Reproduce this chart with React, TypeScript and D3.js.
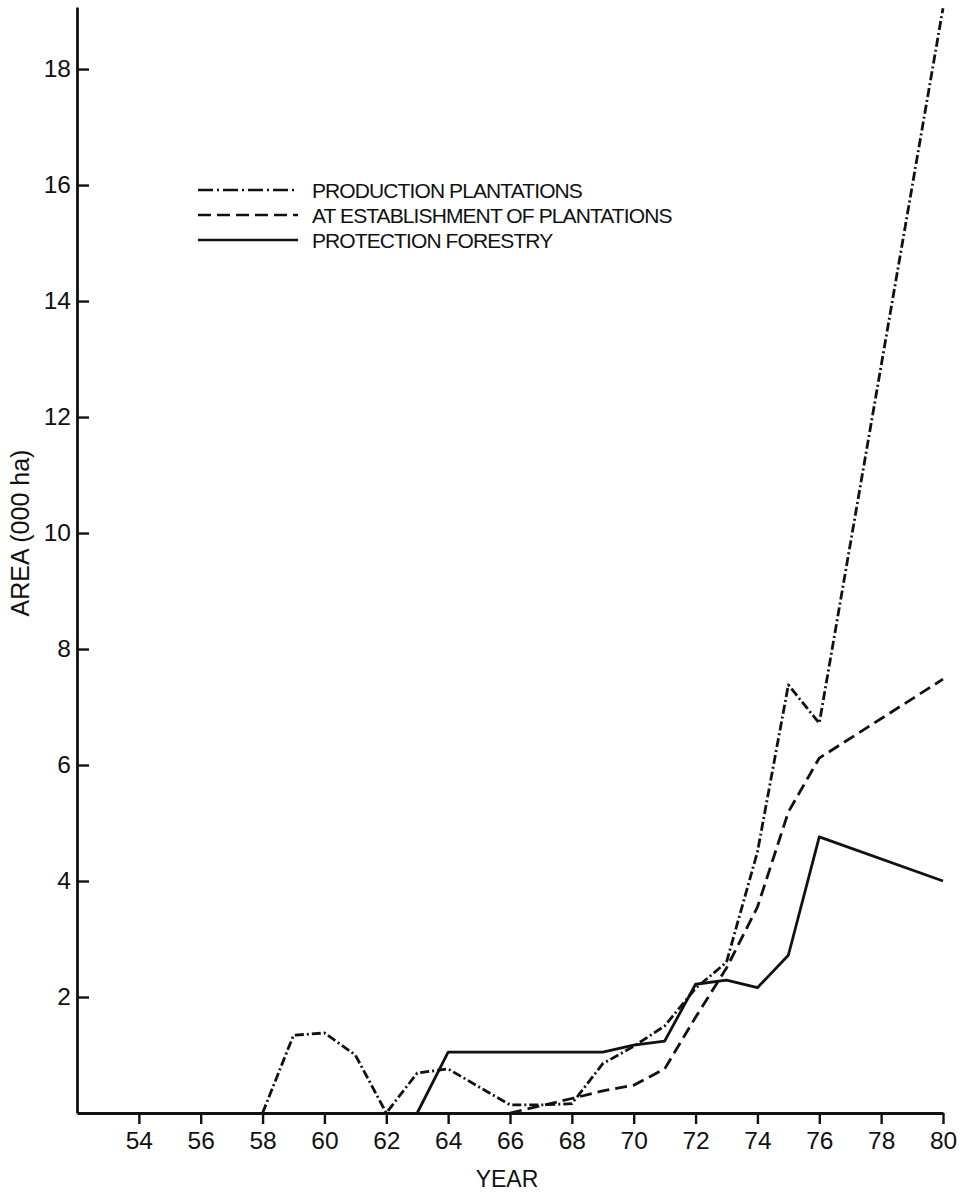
import React, { useRef, useEffect } from "react";
import { select, scaleLinear, line, axisBottom, axisLeft, range } from "d3";

// data (thousand ha by year)
const productionYears = [58, 59, 60, 61, 62, 63, 64, 66, 67, 68, 69, 70, 71, 72, 73, 74, 75, 76, 80];
const productionArea = [0, 1.34, 1.38, 1.0, 0, 0.69, 0.76, 0.14, 0.14, 0.16, 0.85, 1.15, 1.5, 2.15, 2.6, 4.5, 7.38, 6.72, 19.05];

const establishYears = [66, 68, 69, 70, 71, 72, 73, 74, 75, 76, 80];
const establishArea = [0, 0.25, 0.38, 0.48, 0.76, 1.65, 2.5, 3.55, 5.19, 6.12, 7.48];

const protectionYears = [63, 64, 69, 70, 71, 72, 73, 74, 75, 76, 80];
const protectionArea = [0, 1.05, 1.05, 1.17, 1.24, 2.22, 2.29, 2.16, 2.72, 4.76, 4.0];

const xTicks = range(54, 81, 2);
const yTicks = range(2, 19, 2);

const seriesNames = ["PRODUCTION PLANTATIONS", "AT ESTABLISHMENT OF PLANTATIONS", "PROTECTION FORESTRY"];
const dashes = ["9,3,2,3", "12,6", null];

const FONT = "'Liberation Sans', Arial, Helvetica, sans-serif";

function App() {
  const svgRef = useRef<SVGSVGElement>(null);
  const width = 965;
  const height = 1192;

  useEffect(() => {
    const svg = select(svgRef.current);

    const xScale = scaleLinear().domain([52, 80]).range([77, 943]);
    const yScale = scaleLinear().domain([0, 19.07]).range([1113, 7]);

    const series = [
      productionYears.map((yr, i) => [yr, productionArea[i]]),
      establishYears.map((yr, i) => [yr, establishArea[i]]),
      protectionYears.map((yr, i) => [yr, protectionArea[i]]),
    ];

    const lineGenerator = line<number[]>()
      .x(d => xScale(d[0]))
      .y(d => yScale(d[1]));

    svg
      .select(".lines")
      .selectAll("path")
      .data(series)
      .join("path")
      .attr("fill", "none")
      .attr("stroke", "#111")
      .attr("stroke-width", 2.8)
      .attr("stroke-linejoin", "round")
      .attr("stroke-dasharray", (d, i) => dashes[i])
      .attr("d", lineGenerator);

    // axes
    const xAxis = axisBottom(xScale)
      .tickValues(xTicks)
      .tickSize(11)
      .tickSizeOuter(0)
      .tickPadding(8)
      .tickFormat(d => String(d));
    const gx = svg.select<SVGGElement>(".x-axis").attr("transform", `translate(0, ${yScale(0)})`).call(xAxis);
    gx.selectAll("line").attr("stroke", "#111").attr("stroke-width", 2.4);
    gx.select(".domain").attr("stroke", "#111").attr("stroke-width", 2.8);
    gx.selectAll("text").attr("font-size", 24.5).attr("font-family", FONT).attr("fill", "#111");

    const yAxis = axisLeft(yScale)
      .tickValues(yTicks)
      .tickSize(-12)
      .tickSizeOuter(0)
      .tickPadding(6)
      .tickFormat(d => String(d));
    const gy = svg.select<SVGGElement>(".y-axis").attr("transform", `translate(${xScale(52)}, 0)`).call(yAxis);
    gy.selectAll("line").attr("stroke", "#111").attr("stroke-width", 2.4);
    gy.select(".domain").attr("stroke", "#111").attr("stroke-width", 2.8);
    gy.selectAll("text").attr("font-size", 24.5).attr("font-family", FONT).attr("fill", "#111");

    // legend
    const legend = svg.select(".legend");
    legend
      .selectAll("line")
      .data(seriesNames)
      .join("line")
      .attr("x1", 198)
      .attr("x2", 298)
      .attr("y1", (d, i) => 190 + i * 25)
      .attr("y2", (d, i) => 190 + i * 25)
      .attr("stroke", "#111")
      .attr("stroke-width", 2.4)
      .attr("stroke-dasharray", (d, i) => (i === 0 ? "15,4,2,4" : i === 1 ? "13,6" : null));
    legend
      .selectAll("text")
      .data(seriesNames)
      .join("text")
      .attr("x", 312)
      .attr("y", (d, i) => 198 + i * 25)
      .attr("font-size", 21)
      .attr("letter-spacing", -0.9)
      .attr("font-family", FONT)
      .attr("fill", "#111")
      .text(d => d);
  }, []);

  return (
    <svg
      ref={svgRef}
      width={width}
      height={height}
      style={{ position: "absolute", left: 0, top: 0, background: "#fff" }}
    >
      <g className="lines" />
      <g className="x-axis" />
      <g className="y-axis" />
      <g className="legend" />
      <text
        transform="translate(29, 533) rotate(-90)"
        textAnchor="middle"
        fontSize={25}
        fontFamily={FONT}
        fill="#111"
      >
        AREA (000 ha)
      </text>
      <text x={507} y={1187} textAnchor="middle" fontSize={23} fontFamily={FONT} fill="#111">
        YEAR
      </text>
    </svg>
  );
}

export default App;
